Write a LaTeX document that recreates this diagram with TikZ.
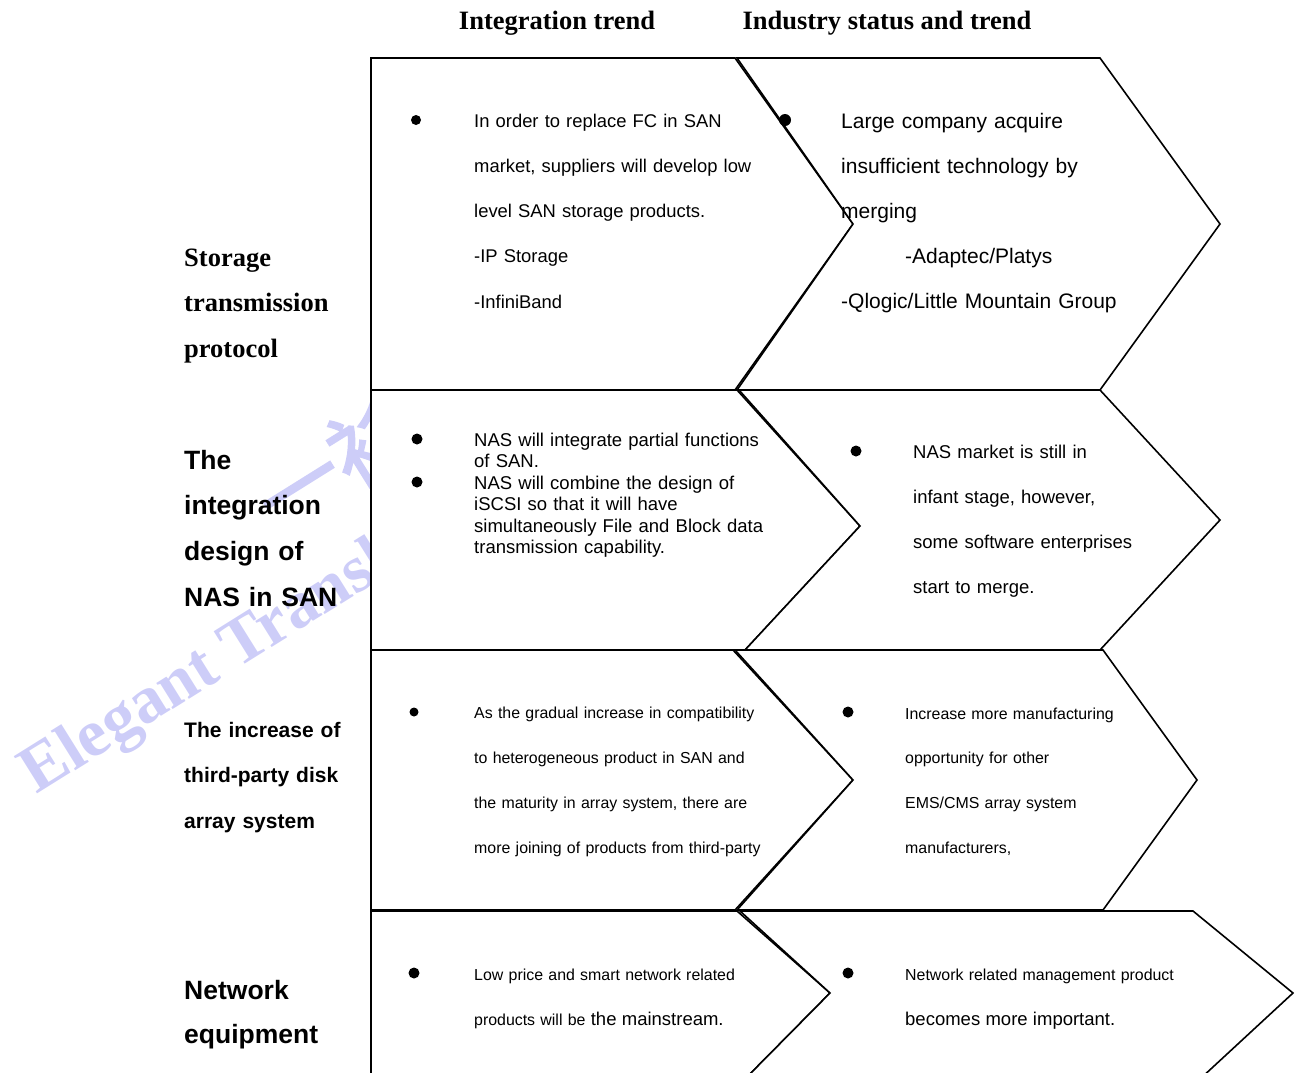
\documentclass[tikz,border=0pt]{standalone}
\usepackage{fontspec}
\setmainfont{Liberation Serif}
\setsansfont{Liberation Sans}
\newfontfamily\cjkwm[FakeBold=2]{Noto Sans CJK SC}
\definecolor{wmcol}{RGB}{205,205,248}
\begin{document}
\begin{tikzpicture}[x=1pt,y=-1pt,
  box/.style={draw=black, fill=white, line width=1.6pt, line join=miter},
  bul/.style={circle, fill=black, inner sep=0pt, minimum size=#1},
  bul/.default=10pt,
  para/.style={anchor=base west, align=left, inner sep=0pt, text width=420pt},
  hdr/.style={anchor=base, inner sep=0pt, font=\rmfamily\bfseries\fontsize{26.5}{30}\selectfont},
  lab/.style={anchor=base west, align=left, inner sep=0pt, text width=200pt},
  wm/.style={text=wmcol, inner sep=0pt, anchor=base west, rotate=32}
]
\useasboundingbox (0,0) rectangle (1298,1072);
\clip (0,0) rectangle (1298,1072);

% watermark
\node[wm, font=\rmfamily\bfseries\fontsize{67}{72}\selectfont] (wm1) at (36,795) {Elegant Translation};
\node[wm, font=\cjkwm\fontsize{85}{90}\selectfont] (wm2) at (280,536) {一衫};

% headers
\node[hdr] (h1) at (557,29) {Integration trend};
\node[hdr] (h2) at (887,29) {Industry status and trend};

% row 1
\draw[box] (371,58) -- (735,58) -- (853,224) -- (735,390) -- (371,390) -- cycle;
\draw[box] (737,58) -- (1100,58) -- (1220,224) -- (1100,390) -- (737,390) -- (853,224) -- cycle;
% row 2
\draw[box] (371,390) -- (737,390) -- (860,526) -- (745,650) -- (371,650) -- cycle;
\draw[box] (739,390) -- (1100,390) -- (1220,520) -- (1100,650) -- (745,650) -- (860,526) -- cycle;
% row 3
\draw[box] (371,650) -- (733,650) -- (853,780) -- (735,910) -- (371,910) -- cycle;
\draw[box] (735,650) -- (1103,650) -- (1197,780) -- (1103,910) -- (737,910) -- (853,780) -- cycle;
% row 4
\draw[box] (371,911) -- (737,911) -- (830,993) -- (745,1079) -- (371,1079) -- cycle;
\draw[box] (740,911) -- (1193,911) -- (1293,993) -- (1200,1079) -- (745,1079) -- (830,993) -- cycle;

% left labels
\node[lab, font=\rmfamily\bfseries\fontsize{26.5}{45.5}\selectfont] (l1) at (184,266) {Storage\\transmission\\protocol};
\node[lab, font=\sffamily\bfseries\fontsize{26.5}{45.7}\selectfont] (l2) at (184,469) {The\\integration\\design of\\NAS in SAN};
\node[lab, font=\sffamily\bfseries\fontsize{21}{45.5}\selectfont] (l3) at (184,737) {The increase of\\third-party disk\\array system};
\node[lab, font=\sffamily\bfseries\fontsize{26.5}{44}\selectfont] (l4) at (184,999) {Network\\equipment};

% bullets
\node[bul] (b1a) at (416,120) {};
\node[bul=12pt] (b1b) at (785,120) {};
\node[bul=11pt] (b2a) at (417,439) {};
\node[bul=11pt] (b2b) at (417,482) {};
\node[bul=11pt] (b2c) at (856,451) {};
\node[bul=9pt] (b3a) at (414,712) {};
\node[bul=11pt] (b3b) at (848,712) {};
\node[bul=11pt] (b4a) at (414,973) {};
\node[bul=11pt] (b4b) at (848,973) {};

% texts
\node[para, font=\sffamily\fontsize{18.4}{45.3}\selectfont] (t1a) at (474,127)
 {In order to replace FC in SAN\\market, suppliers will develop low\\level SAN storage products.\\-IP Storage\\-InfiniBand};
\node[para, font=\sffamily\fontsize{21}{45}\selectfont] (t1b) at (841,128)
 {Large company acquire\\insufficient technology by\\merging\\\hspace*{64pt}-Adaptec/Platys\\-Qlogic/Little Mountain Group};
\node[para, font=\sffamily\fontsize{18.5}{21.5}\selectfont] (t2a) at (474,446)
 {NAS will integrate partial functions\\of SAN.\\NAS will combine the design of\\iSCSI so that it will have\\simultaneously File and Block data\\transmission capability.};
\node[para, font=\sffamily\fontsize{18.5}{45}\selectfont] (t2b) at (913,458)
 {NAS market is still in\\infant stage, however,\\some software enterprises\\start to merge.};
\node[para, font=\sffamily\fontsize{15.9}{45.3}\selectfont] (t3a) at (474,718)
 {As the gradual increase in compatibility\\to heterogeneous product in SAN and\\the maturity in array system, there are\\more joining of products from third-party};
\node[para, font=\sffamily\fontsize{15.9}{44.7}\selectfont] (t3b) at (905,719)
 {Increase more manufacturing\\opportunity for other\\EMS/CMS array system\\manufacturers,};
\node[para, font=\sffamily\fontsize{15.9}{45}\selectfont] (t4a) at (474,980)
 {Low price and smart network related\\products will be {\fontsize{18.5}{45}\selectfont the mainstream.}};
\node[para, font=\sffamily\fontsize{15.9}{45}\selectfont] (t4b) at (905,980)
 {Network related management product\\{\fontsize{18.5}{45}\selectfont becomes more important.}};
\end{tikzpicture}
\end{document}
